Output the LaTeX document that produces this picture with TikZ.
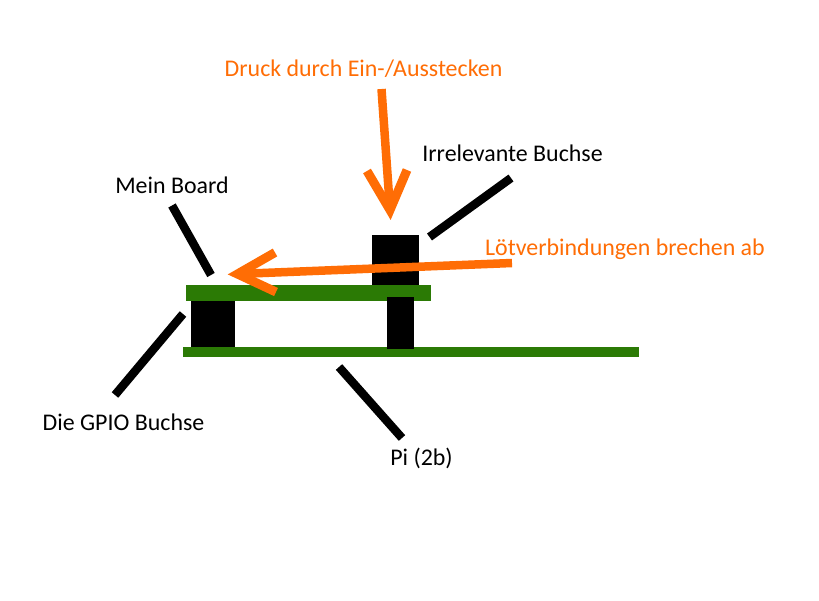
\documentclass[tikz,border=0pt]{standalone}
\usepackage{fontspec}
\setmainfont{Carlito}
\definecolor{pcbgreen}{HTML}{2B7A05}
\definecolor{warnorange}{HTML}{FF6D05}
\tikzset{
  lbl/.style={font=\fontsize{23.9}{26}\selectfont,inner sep=0pt,anchor=center},
  blacklbl/.style={lbl,text=black},
  orangelbl/.style={lbl,text=warnorange},
  leader/.style={draw=black,line width=8.5pt},
  force/.style={draw=warnorange,line width=8.5pt},
  barb/.style={draw=warnorange,line width=9pt,miter limit=10},
  board/.style={fill=pcbgreen},
  socket/.style={fill=black}
}
\begin{document}
\begin{tikzpicture}[x=1pt,y=-1pt]
\useasboundingbox (0,0) rectangle (819,600);
\fill[white] (0,0) rectangle (819,600);
% boards and sockets
\fill[board] (186,285) rectangle (431,300.7);
\fill[board] (183,347) rectangle (639,357);
\fill[socket] (191,300.7) rectangle (235,347);
\fill[socket] (372,235) rectangle (419,285);
\fill[socket] (387,297) rectangle (414,349);
% labels
\node[orangelbl] (druck) at (363.5,69) {Druck durch Ein-/Ausstecken};
\node[orangelbl] (loet) at (625,249) {Lötverbindungen brechen ab};
\node[blacklbl] (irr) at (512.5,153.5) {Irrelevante Buchse};
\node[blacklbl] (mein) at (172,185) {Mein Board};
\node[blacklbl] (gpio) at (123.5,422) {Die GPIO Buchse};
\node[blacklbl] (pi) at (421.5,458) {Pi (2b)};
% leader ends
\coordinate (meinA) at (172,205.5);
\coordinate (meinB) at (211,275);
\coordinate (irrA) at (511,178);
\coordinate (irrB) at (429.5,237);
\coordinate (gpioA) at (115,395);
\coordinate (gpioB) at (183,314);
\coordinate (piA) at (402,438);
\coordinate (piB) at (339,367);
\draw[leader] (meinA) -- (meinB);
\draw[leader] (irrA) -- (irrB);
\draw[leader] (gpioA) -- (gpioB);
\draw[leader] (piA) -- (piB);
% force arrows
\coordinate (downS) at (381.5,89);
\coordinate (downT) at (390,210);
\coordinate (downL) at (367,171);
\coordinate (downR) at (407,170);
\coordinate (leftS) at (512,263);
\coordinate (leftT) at (237.5,274);
\coordinate (leftU) at (275,252.5);
\coordinate (leftD) at (276,292);
\draw[force] (downS) -- (downT);
\draw[barb] (downL) -- (downT) -- (downR);
\draw[force] (leftS) -- (leftT);
\draw[barb] (leftU) -- (leftT) -- (leftD);
\end{tikzpicture}
\end{document}
